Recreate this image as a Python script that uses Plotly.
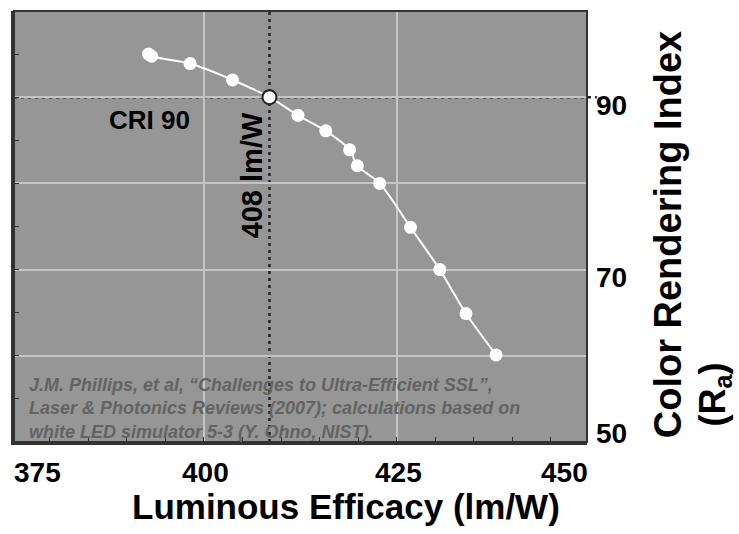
import plotly.graph_objects as go

# Data
efficacy = [392.8, 393.2, 398.2, 403.7, 408.5, 412.2, 415.8, 418.9, 419.9, 422.8, 426.8, 430.6, 434.0, 437.9]
cri = [95.0, 94.75, 93.9, 92.0, 90.0, 87.9, 86.1, 83.9, 82.05, 80.0, 74.9, 70.0, 64.9, 60.1]
cri90_x = 408.5
cri90_y = 90

x_tick_vals = [375, 400, 425, 450]
x_tick_text = ["375", "400", "425", "450"]
y_tick_vals = [50, 70, 90]
y_tick_text = ["50", "70", "90"]

x_range = [375.35, 449.7]
y_range = [50, 100]

FONT = "Liberation Sans, Arial, sans-serif"

fig = go.Figure()

fig.add_trace(go.Scatter(
    x=efficacy, y=cri, mode="lines+markers",
    line=dict(color="white", width=2, shape="spline", smoothing=0.8),
    marker=dict(color="white", size=13, line=dict(width=0)),
    showlegend=False, hoverinfo="skip",
))
fig.add_trace(go.Scatter(
    x=[cri90_x], y=[cri90_y], mode="markers",
    marker=dict(color="white", size=14, line=dict(color="#222222", width=2)),
    showlegend=False, hoverinfo="skip",
))

dot = dict(color="#222222", width=2.5, dash="3px,4px")
fig.add_shape(type="line", xref="paper", yref="y", x0=0, x1=1.017, y0=cri90_y, y1=cri90_y,
              line=dot, layer="between")
fig.add_shape(type="line", xref="x", yref="paper", x0=cri90_x, x1=cri90_x, y0=0, y1=1,
              line=dot, layer="between")
fig.add_shape(type="rect", xref="paper", yref="paper", x0=0, x1=1, y0=0, y1=1,
              line=dict(color="#333333", width=2), layer="above")

x_span = x_range[1] - x_range[0]
annotations = []
for v, t in zip(x_tick_vals, x_tick_text):
    if v == x_tick_vals[0]:
        anchor = "left"
    elif v == x_tick_vals[-1]:
        anchor = "right"
    else:
        anchor = "center"
    xp = min(max((v - x_range[0]) / x_span, 0.0), 1.0)
    annotations.append(dict(x=xp, y=-0.071, xref="paper", yref="paper", text="<b>%s</b>" % t,
                            showarrow=False, xanchor=anchor, yanchor="middle",
                            xshift=(-2 if anchor == "left" else (3 if anchor == "right" else 2)),
                            font=dict(family=FONT, size=28, color="black")))
for v, t in zip(y_tick_vals, y_tick_text):
    annotations.append(dict(x=1.0, y=v, xref="paper", yref="y", text="<b>%s</b>" % t,
                            showarrow=False, xanchor="left", yanchor="middle", xshift=7,
                            yshift=(9 if v == y_tick_vals[0] else -8),
                            font=dict(family=FONT, size=28, color="black")))

annotations.append(dict(x=0.5794, y=-0.149, xref="paper", yref="paper",
                        text="<b>Luminous Efficacy (lm/W)</b>", showarrow=False,
                        xanchor="center", yanchor="middle",
                        font=dict(family=FONT, size=35, color="black")))
# y-axis title, two rotated lines
annotations.append(dict(x=(668 - 14) / 573, y=(441.5 - 235) / 430.5, xref="paper", yref="paper",
                        text="<b>Color Rendering Index</b>", showarrow=False,
                        xanchor="center", yanchor="middle", textangle=-90,
                        font=dict(family=FONT, size=38, color="black")))
annotations.append(dict(x=(715 - 14) / 573, y=(441.5 - 394) / 430.5, xref="paper", yref="paper",
                        text="<b>(R<sub>a</sub>)</b>", showarrow=False,
                        xanchor="center", yanchor="middle", textangle=-90,
                        font=dict(family=FONT, size=36, color="black")))
annotations.append(dict(x=392.9, y=87.4, xref="x", yref="y", text="<b>CRI 90</b>",
                        showarrow=False, xanchor="center", yanchor="middle",
                        font=dict(family=FONT, size=26, color="black")))
annotations.append(dict(x=406.2, y=80.9, xref="x", yref="y", text="<b>408 lm/W</b>",
                        showarrow=False, xanchor="center", yanchor="middle", textangle=-90,
                        font=dict(family=FONT, size=29, color="black")))
annotations.append(dict(x=377.1, y=53.93, xref="x", yref="y",
                        text="<b><i>J.M. Phillips, et al, “Challenges to Ultra-Efficient SSL”,<br>"
                             "Laser &amp; Photonics Reviews (2007); calculations based on<br>"
                             "white LED simulator 5-3 (Y. Ohno, NIST).</i></b>",
                        showarrow=False, xanchor="left", yanchor="middle", align="left",
                        font=dict(family=FONT, size=18, color="#636363")))

fig.update_layout(
    width=739, height=534,
    margin=dict(l=14, r=152, t=11, b=92),
    paper_bgcolor="white", plot_bgcolor="#969696",
    annotations=annotations,
    xaxis=dict(range=x_range, tick0=375, dtick=25, showgrid=True, gridcolor="#c4c4c4", gridwidth=1.5,
               zeroline=False, showticklabels=False, ticks="inside", ticklen=5, tickcolor="#333333",
               minor=dict(dtick=5, tick0=375, ticks="inside", ticklen=5, tickcolor="#333333", showgrid=False),
               showline=True, linecolor="#333333", linewidth=3),
    yaxis=dict(range=y_range, tick0=50, dtick=10, showgrid=True, gridcolor="#c4c4c4", gridwidth=1.5,
               zeroline=False, showticklabels=False, ticks="inside", ticklen=5, tickcolor="#333333",
               minor=dict(dtick=5, tick0=50, ticks="inside", ticklen=5, tickcolor="#333333", showgrid=False),
               showline=True, linecolor="#333333", linewidth=3),
)

fig.write_html("out.html")
